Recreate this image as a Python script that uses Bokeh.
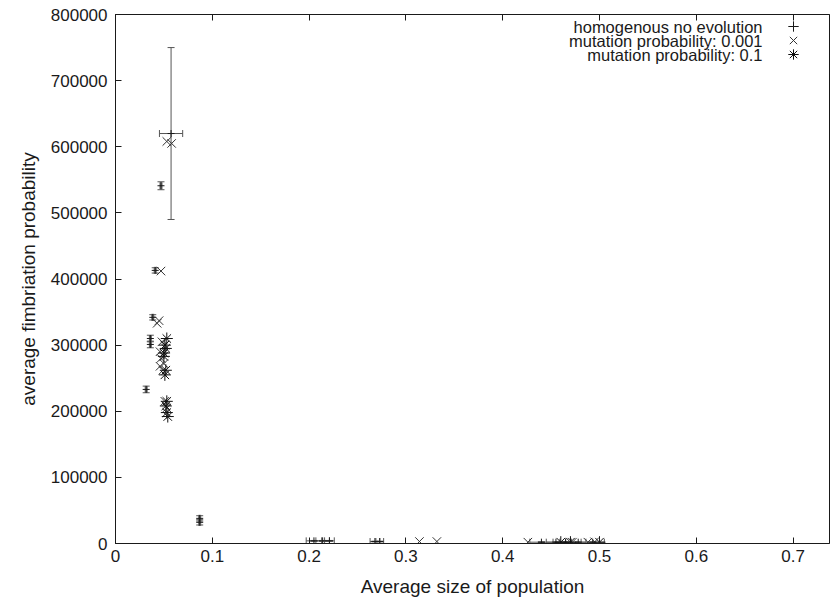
from bokeh.plotting import figure
from bokeh.models import (ColumnDataSource, Whisker, TeeHead, LinearAxis, FixedTicker,
                          NumeralTickFormatter, Legend, LegendItem, Range1d, Label,
                          CustomLabelingPolicy)
from bokeh.embed import file_html
from bokeh.resources import INLINE

# ---- data ----
# homogenous no evolution: x, y, x error, y error
homo_x = [0.0574, 0.047, 0.041, 0.0385, 0.036, 0.036, 0.0317, 0.087, 0.087,
          0.205, 0.214, 0.221, 0.268, 0.273, 0.440, 0.455, 0.465, 0.478, 0.493]
homo_y = [620000, 541000, 413000, 342000, 310000, 301000, 233000, 38000, 32000,
          4000, 4000, 4000, 3000, 3000, 2000, 2000, 2000, 2000, 2000]
homo_xerr = [0.012, 0.001, 0.001, 0.001, 0.001, 0.001, 0.001, 0.001, 0.001,
             0.008, 0.007, 0.005, 0.005, 0.004, 0.012, 0.010, 0.006, 0.008, 0.012]
homo_yerr = [130000, 6000, 4000, 4000, 5000, 5000, 5000, 4000, 4000,
             600, 600, 600, 500, 500, 400, 400, 400, 400, 400]

# mutation probability 0.001
m1_x = [0.053, 0.058, 0.047, 0.045, 0.043, 0.048, 0.046, 0.047, 0.046, 0.050,
        0.049, 0.051, 0.053, 0.314, 0.332, 0.426, 0.472, 0.488, 0.495]
m1_y = [608000, 605000, 412000, 337000, 333000, 305000, 290000, 280000, 268000,
        272000, 262000, 215000, 205000, 3000, 3000, 2000, 2000, 2000, 2500]

# mutation probability 0.1
m2_x = [0.051, 0.052, 0.050, 0.053, 0.050, 0.052, 0.051, 0.053, 0.052, 0.053,
        0.054, 0.460, 0.470, 0.500]
m2_y = [300000, 295000, 288000, 310000, 283000, 262000, 255000, 215000, 208000,
        198000, 192000, 2000, 2000, 2000]

x_ticks = [0, 0.1, 0.2, 0.3, 0.4, 0.5, 0.6, 0.7]
y_ticks = [0, 100000, 200000, 300000, 400000, 500000, 600000, 700000, 800000]
legend_labels = ["homogenous no evolution", "mutation probability: 0.001",
                 "mutation probability: 0.1"]

FONT = "Liberation Sans"
INK = "#1a1a1a"
ECOL = "#555555"

p = figure(width=831, height=599, output_backend="svg", toolbar_location=None,
           x_range=Range1d(0, 0.7376), y_range=Range1d(0, 800000),
           min_border_left=115, min_border_right=2, min_border_top=14,
           min_border_bottom=56)
p.background_fill_color = "white"
p.border_fill_color = "white"
p.grid.visible = False
p.outline_line_color = INK
p.outline_line_width = 1

# error bars for the homogenous series
src_h = ColumnDataSource(dict(
    x=homo_x, y=homo_y,
    xlo=[a - b for a, b in zip(homo_x, homo_xerr)],
    xhi=[a + b for a, b in zip(homo_x, homo_xerr)],
    ylo=[a - b for a, b in zip(homo_y, homo_yerr)],
    yhi=[a + b for a, b in zip(homo_y, homo_yerr)],
))


def tee():
    return TeeHead(size=7, line_color=ECOL, line_width=1)


p.add_layout(Whisker(source=src_h, base="x", lower="ylo", upper="yhi", dimension="height",
                     line_color=ECOL, line_width=1, upper_head=tee(), lower_head=tee()))
p.add_layout(Whisker(source=src_h, base="y", lower="xlo", upper="xhi", dimension="width",
                     line_color=ECOL, line_width=1, upper_head=tee(), lower_head=tee()))
r_h = p.scatter("x", "y", source=src_h, marker="cross", size=7, line_color=INK, line_width=1)
r_m1 = p.scatter(m1_x, m1_y, marker="x", size=12, line_color="#333333", line_width=1)
r_m2 = p.scatter(m2_x, m2_y, marker="asterisk", size=12, line_color="#111111", line_width=1)
r_leg_line = p.line([], [], line_color=ECOL, line_width=1)

# gnuplot-style key: right-aligned text, sample on the right
row_centers = [517, 503, 489]       # screen px above the frame bottom
for lab, rends, yc in zip(legend_labels, [[r_leg_line, r_h], [r_m1], [r_m2]], row_centers):
    lg = Legend(items=[LegendItem(label="", renderers=rends)], location=(660, yc - 13),
                background_fill_alpha=0, border_line_alpha=0,
                glyph_width=36, glyph_height=26, label_height=26, label_width=0,
                label_standoff=0, spacing=0, padding=0, margin=0,
                label_text_font=FONT, label_text_font_size="16px")
    p.add_layout(lg)
    p.add_layout(Label(x=647, y=yc, x_units="screen", y_units="screen", text=lab,
                       text_align="right", text_baseline="middle", text_font=FONT,
                       text_font_size="16.5px", text_color=INK))


def style_axis(ax, labels=True):
    ax.major_tick_in = 6
    ax.major_tick_out = 0
    ax.minor_tick_line_color = None
    ax.axis_line_color = INK
    ax.major_tick_line_color = INK
    ax.major_label_text_font = FONT
    ax.major_label_text_font_size = "17px"
    ax.major_label_text_color = INK
    if not labels:
        ax.major_label_standoff = 0
        ax.major_label_policy = CustomLabelingPolicy(
            code="for (const i of Array.from(indices)) { indices.unset(i) }\nreturn indices")


p.xaxis.ticker = FixedTicker(ticks=x_ticks)
p.yaxis.ticker = FixedTicker(ticks=y_ticks)
p.yaxis.formatter = NumeralTickFormatter(format="0")
style_axis(p.xaxis[0])
style_axis(p.yaxis[0])
p.xaxis.major_label_standoff = 6
p.yaxis.major_label_standoff = 8
p.xaxis.axis_label = "Average size of population"
p.yaxis.axis_label = "average fimbriation probability"
for ax in (p.xaxis[0], p.yaxis[0]):
    ax.axis_label_text_font = FONT
    ax.axis_label_text_font_size = "19px"
    ax.axis_label_text_font_style = "normal"
    ax.axis_label_text_color = INK
p.xaxis.axis_label_standoff = 11
p.yaxis.axis_label_standoff = 9

top = LinearAxis(ticker=FixedTicker(ticks=x_ticks),
                 major_label_overrides={t: "" for t in x_ticks})
style_axis(top, labels=False)
p.add_layout(top, "above")

open("out.html", "w").write(file_html(p, INLINE))
